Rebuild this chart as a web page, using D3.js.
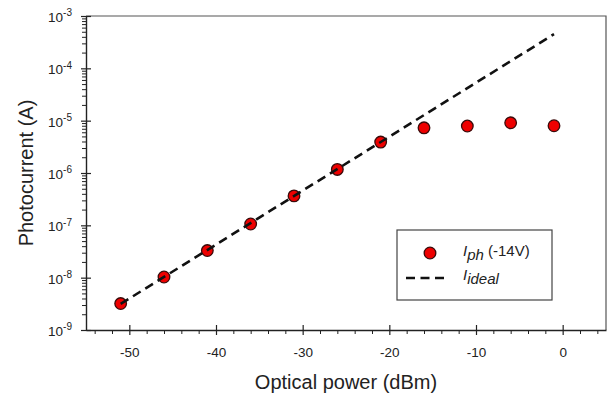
<!DOCTYPE html>
<html lang="en">
<head>
    <meta charset="UTF-8">
    <title>Photocurrent vs optical power</title>
    <style>
        body { margin: 0; background: #fff; }
        svg { font-family: "Liberation Sans", Arial, sans-serif; }
        .axis path, .axis line { stroke: #222; }
        .tick text { font-size: 13.5px; fill: #222; }
        .title { font-size: 20px; fill: #222; }
        .legend text { font-size: 15px; fill: #222; }
    </style>
</head>
<body>
    <div id="chart"></div>
    <script src="https://d3js.org/d3.v7.min.js"></script>
    <script>
        // measured points (dBm -> A)
        const powerDbm = [-51, -46, -41, -36, -31, -26, -21, -16, -11, -6, -1];
        const photocurrent = [3.2e-9, 1.03e-8, 3.3e-8, 1.06e-7, 3.65e-7, 1.17e-6, 3.9e-6, 7.3e-6, 7.9e-6, 9.1e-6, 8.0e-6];
        // ideal response, end points
        const idealDbm = [-51, -1];
        const idealCurrent = [3.15e-9, 4.5e-4];
        const xTicks = [-50, -40, -30, -20, -10, 0];
        const yExponents = [-9, -8, -7, -6, -5, -4, -3];

        const width = 616, height = 394;
        const margin = { left: 86, right: 10, top: 16, bottom: 64 };

        const svg = d3.select("#chart").append("svg")
            .attr("width", width)
            .attr("height", height);

        const x = d3.scaleLinear()
            .domain([-55, 5])
            .range([margin.left, width - margin.right]);

        const y = d3.scaleLog()
            .domain([1e-9, 1e-3])
            .range([height - margin.bottom, margin.top]);

        const x0 = margin.left, x1 = width - margin.right;
        const y0 = height - margin.bottom, y1 = margin.top;

        // frame top / right
        svg.append("path")
            .attr("d", `M${x0},${y1}H${x1}V${y0}`)
            .attr("fill", "none")
            .attr("stroke", "#555")
            .attr("stroke-width", 1.2);

        // minor ticks x
        const xMinor = d3.range(-54, 5, 2).filter(v => v % 10 !== 0);
        svg.append("g")
            .attr("class", "axis")
            .attr("transform", `translate(0,${y0})`)
            .call(d3.axisBottom(x).tickValues(xMinor).tickSize(4).tickFormat(""))
            .call(g => g.select(".domain").remove());

        // major x axis (plain hyphen minus like the original)
        const xAxis = svg.append("g")
            .attr("class", "axis")
            .attr("transform", `translate(0,${y0})`)
            .call(d3.axisBottom(x).tickValues(xTicks).tickSize(5).tickSizeOuter(0)
                .tickPadding(12).tickFormat(d => String(d)));
        xAxis.selectAll(".tick line").attr("y1", -5).attr("stroke-width", 1.2);
        xAxis.select(".domain").attr("stroke-width", 1.4);

        // minor ticks y
        const yMinor = [];
        yExponents.slice(0, -1).forEach(e => {
            for (let k = 2; k <= 9; k++) yMinor.push(k * Math.pow(10, e));
        });
        svg.append("g")
            .attr("class", "axis")
            .attr("transform", `translate(${x0},0)`)
            .call(d3.axisLeft(y).tickValues(yMinor).tickSize(4).tickFormat(""))
            .call(g => g.select(".domain").remove());

        // major y axis
        const yAxis = svg.append("g")
            .attr("class", "axis")
            .attr("transform", `translate(${x0},0)`)
            .call(d3.axisLeft(y).tickValues(yExponents.map(e => Math.pow(10, e)))
                .tickSize(5).tickSizeOuter(0).tickPadding(9).tickFormat(""));
        yAxis.selectAll(".tick line").attr("x1", 5).attr("stroke-width", 1.2);
        yAxis.select(".domain").attr("stroke-width", 1.4);
        yAxis.selectAll(".tick").each(function(d) {
            const t = d3.select(this).append("text")
                .attr("x", -14)
                .attr("dy", "0.4em")
                .attr("text-anchor", "end")
                .attr("fill", "#222");
            t.append("tspan").text("10");
            t.append("tspan")
                .attr("dy", "-0.55em")
                .attr("font-size", "10px")
                .text(Math.round(Math.log10(d)));
        });

        // axis titles
        svg.append("text")
            .attr("class", "title")
            .attr("x", (x0 + x1) / 2)
            .attr("y", 389)
            .attr("text-anchor", "middle")
            .text("Optical power (dBm)");

        svg.append("text")
            .attr("class", "title")
            .attr("transform", `translate(33,${(y0 + y1) / 2}) rotate(-90)`)
            .attr("text-anchor", "middle")
            .text("Photocurrent (A)");

        // data points
        svg.append("g")
            .selectAll("circle")
            .data(powerDbm.map((p, i) => ({ p: p, c: photocurrent[i] })))
            .enter()
            .append("circle")
            .attr("cx", d => x(d.p))
            .attr("cy", d => y(d.c))
            .attr("r", 5.8)
            .attr("fill", "#ee0000")
            .attr("stroke", "#3a0a0a")
            .attr("stroke-width", 1.3);

        // ideal line, drawn on top
        const line = d3.line().x(d => x(d[0])).y(d => y(d[1]));
        svg.append("path")
            .datum(idealDbm.map((p, i) => [p, idealCurrent[i]]))
            .attr("d", line)
            .attr("fill", "none")
            .attr("stroke", "#111")
            .attr("stroke-width", 2.6)
            .attr("stroke-dasharray", "9,5.5");

        // legend
        const legend = svg.append("g").attr("class", "legend");
        legend.append("rect")
            .attr("x", 397).attr("y", 230)
            .attr("width", 155).attr("height", 70)
            .attr("fill", "#fff")
            .attr("stroke", "#444")
            .attr("stroke-width", 1.2);
        legend.append("circle")
            .attr("cx", 430).attr("cy", 253).attr("r", 5.8)
            .attr("fill", "#ee0000")
            .attr("stroke", "#3a0a0a")
            .attr("stroke-width", 1.3);
        legend.append("line")
            .attr("x1", 406).attr("x2", 447)
            .attr("y1", 278).attr("y2", 278)
            .attr("stroke", "#111")
            .attr("stroke-width", 2.6)
            .attr("stroke-dasharray", "9,5.5");

        const t1 = legend.append("text").attr("x", 463).attr("y", 256);
        t1.append("tspan").attr("font-style", "italic").text("I");
        t1.append("tspan").attr("font-style", "italic").attr("dy", 4).text("ph");
        t1.append("tspan").attr("dy", -4).text(" (-14V)");

        const t2 = legend.append("text").attr("x", 463).attr("y", 280);
        t2.append("tspan").attr("font-style", "italic").text("I");
        t2.append("tspan").attr("font-style", "italic").attr("dy", 4).text("ideal");
    </script>
</body>
</html>
